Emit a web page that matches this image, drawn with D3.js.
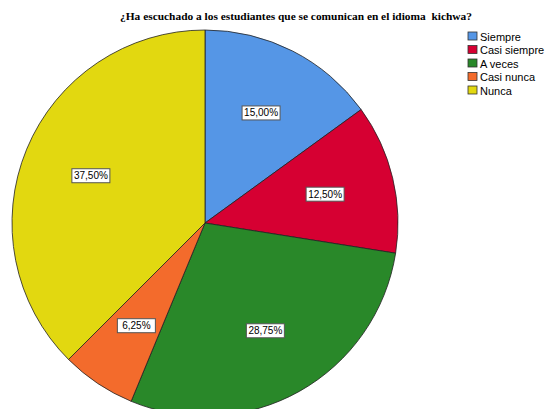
<!DOCTYPE html>
<html>
<head>
<meta charset="utf-8">
<script src="https://cdn.jsdelivr.net/npm/d3@7"></script>
<style>
  body { margin: 0; background: #fff; }
  .title { font-family: "Liberation Serif", "Times New Roman", serif; font-weight: bold; font-size: 11.4px; white-space: pre; }
  .legendText { font-family: "Liberation Sans", Arial, sans-serif; font-size: 11px; fill: #000; }
  .pctText { font-family: "Liberation Sans", Arial, sans-serif; font-size: 10px; fill: #000; }
</style>
</head>
<body>
<svg></svg>
<script>
// categories and percentages
var categories = ["Siempre", "Casi siempre", "A veces", "Casi nunca", "Nunca"];
var percents = [15.00, 12.50, 28.75, 6.25, 37.50];
var colors = ["#5596e6", "#d60032", "#298829", "#f36b2c", "#e2d810"];
var title = "¿Ha escuchado a los estudiantes que se comunican en el idioma  kichwa?";

var width = 545, height = 409;
var svg = d3.select("svg").attr("width", width).attr("height", height);

var cx = 205, cy = 223, radius = 193;

var data = categories.map(function(c, i) {
  return { name: c, value: percents[i], color: colors[i] };
});

var pie = d3.pie().sort(null).value(function(d) { return d.value; });
var arc = d3.arc().innerRadius(0).outerRadius(radius);
var labelArc = d3.arc().innerRadius(radius * 0.64).outerRadius(radius * 0.64);

var g = svg.append("g").attr("transform", "translate(" + cx + "," + cy + ")");

var arcs = pie(data);

g.selectAll("path.slice")
  .data(arcs)
  .enter()
  .append("path")
  .attr("class", "slice")
  .attr("d", arc)
  .attr("fill", function(d) { return d.data.color; })
  .attr("stroke", "#222")
  .attr("stroke-width", 0.8);

var fmt = function(v) { return v.toFixed(2).replace(".", ",") + "%"; };

var lab = g.selectAll("g.lab")
  .data(arcs)
  .enter()
  .append("g")
  .attr("class", "lab")
  .attr("transform", function(d) { return "translate(" + labelArc.centroid(d) + ")"; });

lab.append("rect")
  .attr("x", -19).attr("y", -7)
  .attr("width", 38).attr("height", 14)
  .attr("fill", "#fff")
  .attr("stroke", "#555")
  .attr("stroke-width", 1);

lab.append("text")
  .attr("class", "pctText")
  .attr("text-anchor", "middle")
  .attr("dy", "0.35em")
  .text(function(d) { return fmt(d.data.value); });

svg.append("text")
  .attr("class", "title")
  .attr("x", 296)
  .attr("y", 20)
  .attr("text-anchor", "middle")
  .text(title);

var legend = svg.append("g").attr("transform", "translate(468,32)");
var item = legend.selectAll("g.item")
  .data(data)
  .enter()
  .append("g")
  .attr("class", "item")
  .attr("transform", function(d, i) { return "translate(0," + (i * 13.5) + ")"; });

item.append("rect")
  .attr("width", 9).attr("height", 8)
  .attr("fill", function(d) { return d.color; })
  .attr("stroke", "#333")
  .attr("stroke-width", 0.8);

item.append("text")
  .attr("class", "legendText")
  .attr("x", 12)
  .attr("y", 8.5)
  .text(function(d) { return d.name; });
</script>
</body>
</html>
